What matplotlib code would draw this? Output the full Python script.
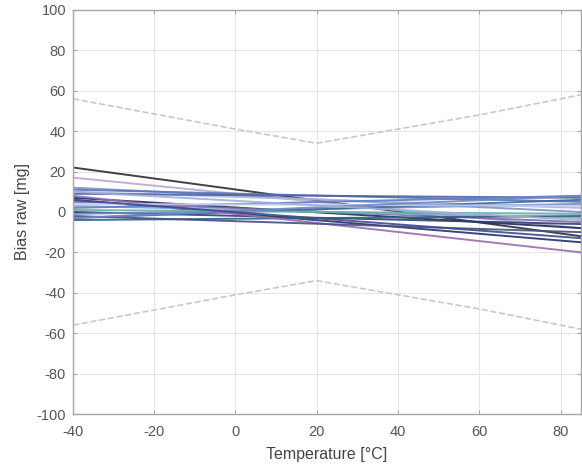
import matplotlib
matplotlib.use("Agg")
import matplotlib.pyplot as plt
import numpy as np

plt.rcParams['font.family'] = ['Liberation Sans', 'DejaVu Sans']
plt.rcParams['axes.unicode_minus'] = False

# Temperature endpoints and bias lines (value at -40 °C, value at 85 °C)
temp_ends = [-40, 85]
bias_at_m40 = [22, 17, 12, 11, 10, 9, 7, 6, 5, 3, 2, 0, -1, -3, -4, 8, 1, -2, 4, -3, 6, 10]
bias_at_85 = [-12, -8, 0, 5, 2, 7, -8, -15, -5, -3, 8, -6, 4, 6, -2, -20, -1, -10, 3, 8, -13, -4]
line_colors = ['#2b2b33', '#b9a9cf', '#7d8fc6', '#5a74b8', '#a9b8e0', '#4f63a8',
               '#1d2a5c', '#26306e', '#7a6cae', '#8fa3d6', '#5d7fc2', '#2f3f6e',
               '#6c8bc8', '#3a6a9a', '#2f5f8a', '#9a6bb0', '#5fb3a2', '#44507f',
               '#c5cde8', '#6f86c4', '#3e4b8c', '#9fb0d8']

# Limit envelope
limit_temp = [-40, 0, 20, 40, 60, 85]
limit_upper = [56, 41, 34, 41, 48, 58]
limit_lower = [-56, -41, -34, -41, -48, -58]

xticks = [-40, -20, 0, 20, 40, 60, 80]
yticks = [-100, -80, -60, -40, -20, 0, 20, 40, 60, 80, 100]

fig = plt.figure(figsize=(5.82, 4.71), dpi=100)
ax = fig.add_axes([0.1254, 0.121, 0.8726, 0.858])

for a, b, c in zip(bias_at_m40, bias_at_85, line_colors):
    ax.plot(temp_ends, [a, b], color=c, lw=1.4, alpha=0.9)

ax.plot(limit_temp, limit_upper, ls='--', color='#c8c8c8', lw=1.2)
ax.plot(limit_temp, limit_lower, ls='--', color='#c8c8c8', lw=1.2)

ax.set_xlim(-40, 85)
ax.set_ylim(-100, 100)
ax.set_xticks(xticks)
ax.set_yticks(yticks)
ax.grid(True, color='#e6e6e6', lw=0.8)
ax.set_axisbelow(True)
for s in ax.spines.values():
    s.set_color('#a6a6a6')
    s.set_linewidth(1.0)
ax.tick_params(direction='in', length=3, color='#a6a6a6', labelcolor='#555555',
               labelsize=10.5, top=True, right=True)
ax.tick_params(axis='x', pad=8)
ax.tick_params(axis='y', pad=5)
ax.set_xlabel('Temperature [°C]', fontsize=11.5, color='#444444', labelpad=6)
ax.set_ylabel('Bias raw [mg]', fontsize=11.5, color='#444444', labelpad=5)

fig.savefig('out.png', dpi=100)
